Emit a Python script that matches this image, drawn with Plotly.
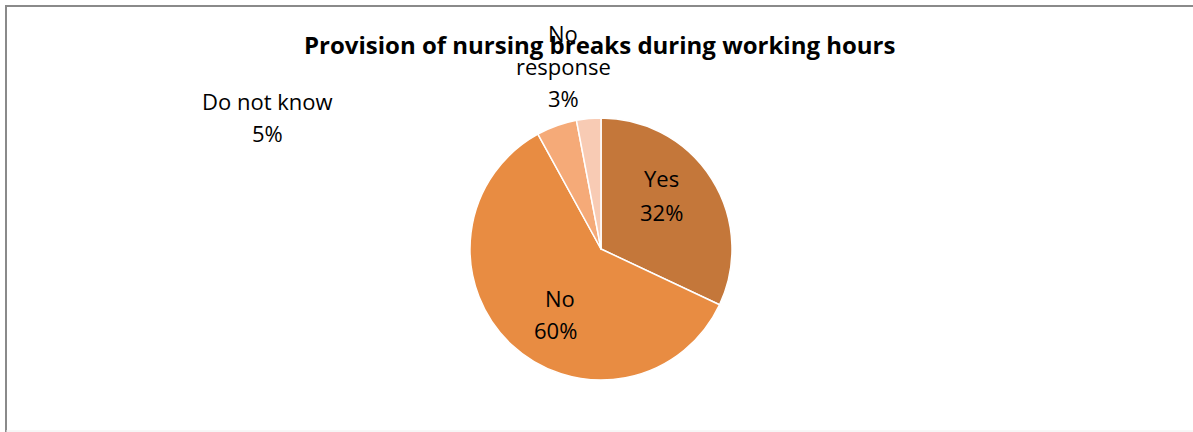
import plotly.graph_objects as go

labels = ["Yes", "No", "Do not know", "No response"]
values = [32, 60, 5, 3]
colors = ["#C4773A", "#E88C42", "#F5AA78", "#F8CBB4"]
title = "Provision of nursing breaks during working hours"

W, H = 1193, 432
FONT = "Open Sans"

fig = go.Figure()
fig.add_trace(go.Pie(
    labels=labels, values=values, sort=False, direction="clockwise", rotation=0,
    marker=dict(colors=colors, line=dict(color="white", width=1.5)),
    textinfo="none",
    domain=dict(x=[470 / W, 732 / W], y=[1 - 380 / H, 1 - 118 / H]),
    showlegend=False, hoverinfo="label+percent",
))

total = sum(values)
pct = [f"{round(v / total * 100)}%" for v in values]
anns = [
    (labels[0], 661, 178), (pct[0], 661, 212),
    (labels[1], 560, 298), (pct[1], 555, 330),
    (labels[2], 267, 101), (pct[2], 267, 133),
    ("No", 563, 33), ("response", 563, 66), (pct[3], 563, 98),
]
for txt, x, y in anns:
    fig.add_annotation(text=txt, x=x / W, y=1 - y / H, xref="paper", yref="paper",
                       showarrow=False, xanchor="center", yanchor="middle",
                       font=dict(family=FONT, size=22, color="black"))

fig.add_annotation(text=f"<b>{title}</b>", x=600 / W, y=1 - 45 / H, xref="paper", yref="paper",
                   showarrow=False, xanchor="center", yanchor="middle",
                   font=dict(family=FONT, size=24, color="black"))

fig.add_shape(type="rect", xref="paper", yref="paper",
              x0=6 / W, x1=1.05, y0=-0.05, y1=1 - 6 / H,
              line=dict(color="#8A8A8A", width=2), fillcolor="rgba(0,0,0,0)")
fig.add_shape(type="line", xref="paper", yref="paper",
              x0=6 / W, x1=1.05, y0=1 - 431 / H, y1=1 - 431 / H,
              line=dict(color="#EEEEEE", width=1))

fig.update_layout(width=W, height=H, margin=dict(l=0, r=0, t=0, b=0),
                  paper_bgcolor="white", plot_bgcolor="white")
fig.write_html("out.html", config={"displayModeBar": False},
               post_script="document.body.style.margin='0';")
